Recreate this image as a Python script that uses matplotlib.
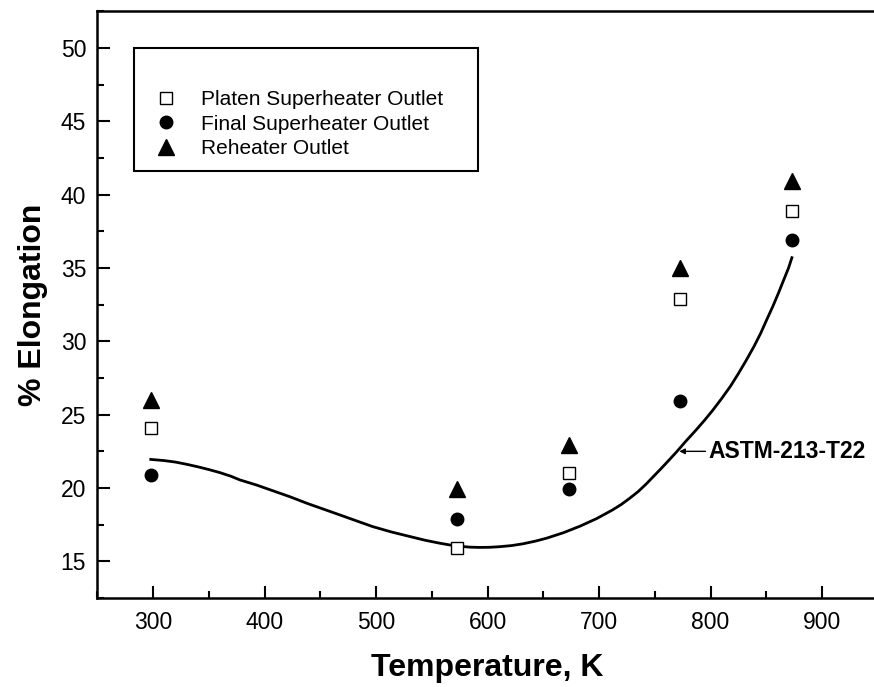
import matplotlib
matplotlib.use("Agg")
import matplotlib.pyplot as plt
from matplotlib.ticker import MultipleLocator

plt.rcParams['font.family'] = ['Liberation Sans', 'DejaVu Sans']

# Data
temps = [298, 573, 673, 773, 873]
platen = [24.1, 15.9, 21.0, 32.9, 38.9]
final = [20.9, 17.9, 19.9, 25.9, 36.9]
reheater = [26.0, 19.9, 22.9, 35.0, 40.9]

labels = ["Platen Superheater Outlet", "Final Superheater Outlet", "Reheater Outlet"]

# ASTM-213-T22 curve
curve_x = [298, 310, 320, 330, 340, 350, 360, 370, 378, 393, 408, 423, 438, 454, 470,
           484, 497, 514, 530, 544, 557, 566, 575, 584, 593, 602, 611, 622, 632, 643,
           653, 668, 683, 698, 712, 720, 727, 735, 742, 749, 756, 763, 770, 778, 787,
           795, 802, 810, 818, 825, 832, 839, 845, 850, 856, 861, 866, 870, 873]
curve_y = [21.95, 21.87, 21.77, 21.62, 21.45, 21.26, 21.05, 20.8, 20.55, 20.2, 19.8,
           19.4, 18.96, 18.53, 18.1, 17.72, 17.37, 17.0, 16.7, 16.44, 16.24, 16.12,
           16.03, 15.97, 15.95, 15.96, 16.0, 16.08, 16.2, 16.38, 16.58, 16.95, 17.4,
           17.92, 18.5, 18.88, 19.27, 19.75, 20.25, 20.8, 21.35, 21.92, 22.5, 23.2,
           23.95, 24.65, 25.3, 26.1, 26.95, 27.8, 28.7, 29.65, 30.55, 31.4, 32.4,
           33.3, 34.25, 35.0, 35.7]

annot_text = "ASTM-213-T22"
annot_xy = (772, 22.5)
annot_text_xy = (798, 22.5)

fig = plt.figure(figsize=(8.74, 6.87), dpi=100)
ax = fig.add_axes([97.25 / 874, 0.1295, (877.75 - 97.25) / 874, 0.9836 - 0.1295])

ax.plot(curve_x, curve_y, color='black', lw=2.0, zorder=2)

ax.plot(temps, platen, ls='none', marker='s', ms=8.5, mfc='white', mec='black',
        mew=1.0, label=labels[0], zorder=3)
ax.plot(temps, final, ls='none', marker='o', ms=9, mfc='black', mec='black',
        label=labels[1], zorder=3)
ax.plot(temps, reheater, ls='none', marker='^', ms=11, mfc='black', mec='black',
        label=labels[2], zorder=3)

ax.annotate(annot_text, xy=annot_xy, xytext=annot_text_xy,
            fontsize=16.5, fontweight='bold', va='center', ha='left',
            arrowprops=dict(arrowstyle='-|>', color='black', lw=1.0,
                            mutation_scale=8, shrinkA=0, shrinkB=0))

ax.set_xlim(250, 950)
ax.set_ylim(12.5, 52.5)
ax.xaxis.set_minor_locator(MultipleLocator(50))
ax.yaxis.set_minor_locator(MultipleLocator(2.5))
ax.set_yticks([15, 20, 25, 30, 35, 40, 45, 50])
ax.set_xticks([300, 400, 500, 600, 700, 800, 900])

ax.tick_params(axis='both', which='major', direction='in', length=9, width=1.5,
               labelsize=16.5)
ax.tick_params(axis='both', which='minor', direction='in', length=5, width=1.5)
ax.tick_params(axis='x', which='major', pad=9)
ax.tick_params(axis='y', which='major', pad=8)
ax.tick_params(top=False, right=False, which='both')

for s in ['left', 'bottom', 'top']:
    ax.spines[s].set_linewidth(1.8)
ax.spines['right'].set_visible(False)

ax.set_xlabel("Temperature, K", fontsize=23, fontweight='bold', labelpad=14)
ax.set_ylabel("% Elongation", fontsize=23, fontweight='bold', labelpad=9)

leg = ax.legend(loc='upper left', bbox_to_anchor=(0.047, 0.0, 0.441, 0.9375),
                mode='expand', fontsize=15, frameon=True, fancybox=False,
                edgecolor='black', borderpad=0.6, labelspacing=0.27,
                handlelength=1.9, handletextpad=0.7, title=" ",
                title_fontproperties={'size': 19}, borderaxespad=0)
leg.get_frame().set_linewidth(1.5)
leg.get_frame().set_alpha(1)

fig.savefig("out.png", dpi=100)
